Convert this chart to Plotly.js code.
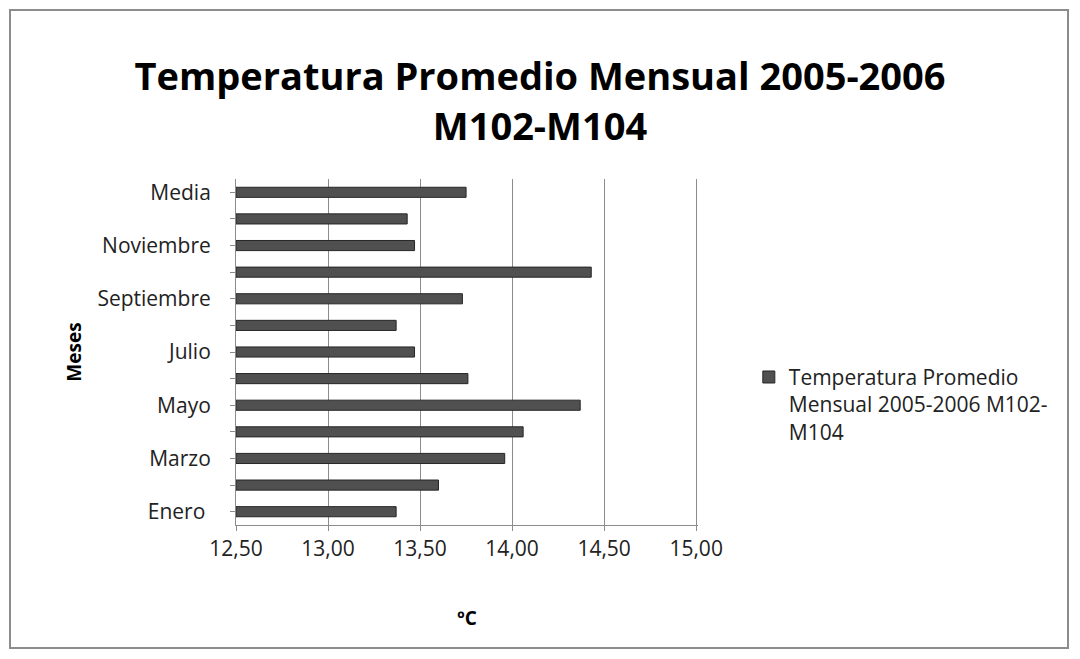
<!DOCTYPE html>
<html><head><meta charset="utf-8">
<script src="https://cdn.plot.ly/plotly-3.0.1.min.js"></script>
<style>
html,body{margin:0;padding:0;background:#fff;}
#frame{position:absolute;left:9px;top:9px;width:1060px;height:640px;border:2px solid #8c8c8c;box-sizing:border-box;pointer-events:none;z-index:5;}
#chart{position:absolute;left:0;top:0;width:1080px;height:659px;}
</style></head>
<body>
<div id="chart"></div>
<div id="frame"></div>
<script>
const months = ["Enero","Febrero","Marzo","Abril","Mayo","Junio","Julio","Agosto","Septiembre","Octubre","Noviembre","Diciembre","Media"];
const temps = [13.37,13.60,13.96,14.06,14.37,13.76,13.47,13.37,13.73,14.43,13.47,13.43,13.75];
const shownLabels = ["Enero ","","Marzo","","Mayo","","Julio","","Septiembre","","Noviembre","","Media"];
const xTicks = [12.5,13,13.5,14,14.5,15];
const xTickText = ["12,50","13,00","13,50","14,00","14,50","15,00"];
const seriesName = "Temperatura Promedio<br>Mensual 2005-2006 M102-<br>M104";
const axisBase = 12.5;

const font = "Open Sans, Noto Sans, Liberation Sans, sans-serif";

Plotly.newPlot('chart', [{
  type: 'bar',
  orientation: 'h',
  y: months,
  x: temps.map(v => v - axisBase),
  base: axisBase,
  name: seriesName,
  width: 0.38,
  marker: {color: '#505050', line: {color: '#262626', width: 1}},
  showlegend: true
}], {
  width: 1080, height: 659,
  paper_bgcolor: '#fff', plot_bgcolor: '#fff',
  margin: {l: 236, r: 382, t: 179, b: 134},
  title: {
    text: '<b>Temperatura Promedio Mensual 2005-2006<br>M102-M104</b>',
    x: 0.5, xanchor: 'center', y: 0.863, yanchor: 'middle',
    font: {family: font, size: 38, color: '#000'}
  },
  xaxis: {
    range: [12.5, 15.01],
    tickvals: xTicks, ticktext: xTickText,
    showgrid: true, gridcolor: '#8c8c8c', gridwidth: 1,
    zeroline: false,
    showline: true, linecolor: '#8c8c8c',
    ticks: 'outside', ticklen: 5, tickcolor: '#8c8c8c',
    tickfont: {family: font, size: 21, color: '#222'},
    title: {text: '<b>ºC</b>', font: {family: font, size: 19, color: '#000'}, standoff: 50}
  },
  yaxis: {
    type: 'category',
    categoryorder: 'array', categoryarray: months,
    tickvals: months, ticktext: shownLabels,
    range: [-0.5, 12.5],
    showgrid: false, zeroline: false,
    showline: true, linecolor: '#8c8c8c',
    ticks: 'outside', ticklen: 5, tickcolor: '#8c8c8c',
    ticklabelstandoff: 15,
    tickfont: {family: font, size: 21, color: '#222'},
    title: {text: '<b>Meses</b>', font: {family: font, size: 19, color: '#000'}, standoff: 10}
  },
  legend: {
    x: 1.11, xanchor: 'left', y: 0.486, yanchor: 'top',
    valign: 'top', tracegroupgap: 0,
    font: {family: font, size: 21, color: '#222'},
    bgcolor: 'rgba(0,0,0,0)', itemwidth: 30
  },
  bargap: 0.6
}, {displayModeBar: false, staticPlot: true});
</script>
</body></html>
